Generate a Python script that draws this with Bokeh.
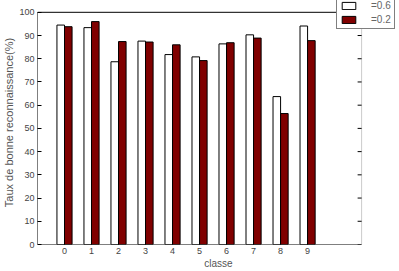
from bokeh.plotting import figure
from bokeh.models import ColumnDataSource, Legend, LegendItem, Range1d, FixedTicker
from bokeh.embed import file_html
from bokeh.resources import INLINE

classes = [0, 1, 2, 3, 4, 5, 6, 7, 8, 9]
sigma_06 = [94.5, 93.4, 78.7, 87.6, 81.8, 80.8, 86.4, 90.3, 63.7, 94.1]
sigma_02 = [93.8, 96.0, 87.4, 87.2, 86.0, 79.2, 86.9, 88.9, 56.4, 87.8]
series_labels = ["=0.6", "=0.2"]
y_ticks = [0, 10, 20, 30, 40, 50, 60, 70, 80, 90, 100]

FONT = "Liberation Sans"
W, H = 399, 271
BL, BB = 36, 23          # left / bottom borders
X0, X1 = -1, 11          # axes box in data units
Y0, Y1 = 0, 100
AX_RIGHT_PX = 361        # right edge of the axes box
AX_TOP_PX = 12           # top edge of the axes box

xscale = (AX_RIGHT_PX - BL) / (X1 - X0)
yscale = (H - BB - AX_TOP_PX) / (Y1 - Y0)
x_end = X1 + (W - AX_RIGHT_PX) / xscale
y_end = Y1 + AX_TOP_PX / yscale

bw = 0.28
src = ColumnDataSource(dict(
    x1=[c - bw / 2 for c in classes],
    x2=[c + bw / 2 for c in classes],
    a=sigma_06, b=sigma_02,
))

p = figure(width=W, height=H, output_backend="svg", toolbar_location=None,
           x_range=Range1d(X0, x_end), y_range=Range1d(Y0, y_end),
           min_border_left=BL, min_border_right=0, min_border_top=0, min_border_bottom=BB)
p.outline_line_color = None
p.grid.visible = False
p.background_fill_color = "white"

r1 = p.vbar(x="x1", top="a", width=bw, source=src, fill_color="white", line_color="black", line_width=1)
r2 = p.vbar(x="x2", top="b", width=bw, source=src, fill_color="#800000", line_color="black", line_width=1)

# axes box lines
p.segment(x0=[X0, X0, X0], y0=[Y0, Y0, Y1], x1=[X0, X1, X1], y1=[Y1, Y0, Y1],
          line_color="black", line_width=1)
p.segment(x0=[X1], y0=[Y0], x1=[X1], y1=[Y1], line_color="#cccccc", line_width=1)
tick_len = 4 / xscale
p.segment(x0=[X1 - tick_len] * len(y_ticks), y0=y_ticks, x1=[X1] * len(y_ticks), y1=y_ticks,
          line_color="black", line_width=1)

for ax in (p.xaxis[0], p.yaxis[0]):
    ax.axis_line_color = None
    ax.major_tick_in = 4
    ax.major_tick_out = 0
    ax.minor_tick_line_color = None
    ax.major_tick_line_color = "black"
    ax.major_label_text_font = FONT
    ax.major_label_text_font_size = "9px"
    ax.major_label_text_color = "#444444"
    ax.axis_label_text_font = FONT
    ax.axis_label_text_font_size = "10px"
    ax.axis_label_text_font_style = "normal"
    ax.axis_label_text_color = "#555555"

p.xaxis[0].ticker = FixedTicker(ticks=classes)
p.xaxis[0].axis_label = "classe"
p.xaxis[0].axis_label_standoff = 1
p.xaxis[0].major_label_standoff = 3
p.yaxis[0].ticker = FixedTicker(ticks=y_ticks)
p.yaxis[0].axis_label = "Taux de bonne reconnaissance(%)"
p.yaxis[0].axis_label_text_font_size = "11px"
p.yaxis[0].axis_label_standoff = 1
p.yaxis[0].major_label_standoff = 3

legend = Legend(items=[LegendItem(label=series_labels[0], renderers=[r1]),
                       LegendItem(label=series_labels[1], renderers=[r2])],
                location=(W - BL - 64, H - BB - 33))
legend.label_text_font = FONT
legend.label_text_font_size = "10px"
legend.label_text_color = "#666666"
legend.glyph_width = 17
legend.glyph_height = 9
legend.label_height = 9
legend.label_standoff = 14
legend.padding = 3
legend.spacing = 3
legend.margin = 0
legend.border_line_color = "black"
legend.border_line_width = 1
legend.background_fill_alpha = 1
p.add_layout(legend, "center")

open("out.html", "w").write(file_html(p, INLINE))
